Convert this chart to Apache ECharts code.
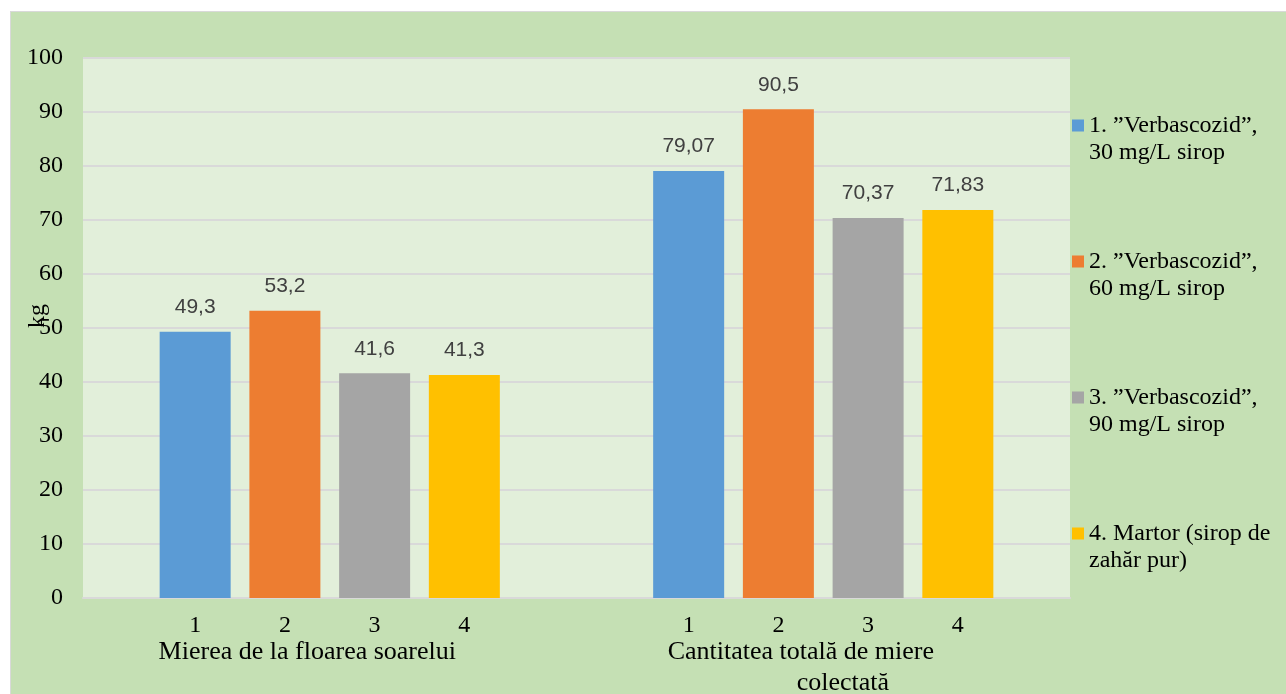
<!DOCTYPE html>
<html>
<head>
<meta charset="utf-8">
<script src="https://cdn.jsdelivr.net/npm/echarts@6/dist/echarts.min.js"></script>
<style>
  body { margin: 0; background: #fff; }
  .frame {
    position: absolute;
    left: 10px;
    top: 11px;
    width: 1280px;
    height: 690px;
    background: #c5e0b4;
    border: 1.5px solid #d9d9d9;
  }
  #chart {
    position: absolute;
    left: 0;
    top: 0;
    width: 1286px;
    height: 694px;
  }
</style>
</head>
<body>
<div class="frame"></div>
<div id="chart"></div>
<script>
// grupe pe axa x
var groups = ['Mierea de la floarea soarelui', 'Cantitatea totală de miere\ncolectată'];
// variante (legenda)
var variants = [
  '1. ”Verbascozid”,\n30 mg/L sirop',
  '2. ”Verbascozid”,\n60 mg/L sirop',
  '3. ”Verbascozid”,\n90 mg/L sirop',
  '4. Martor (sirop de\nzahăr pur)'
];
var subLabels = ['1', '2', '3', '4'];
var sunflower = [49.3, 53.2, 41.6, 41.3];
var totalHoney = [79.07, 90.5, 70.37, 71.83];
var yTicks = [0, 100, 10]; // min, max, interval
var colors = ['#5b9bd5', '#ed7d31', '#a5a5a5', '#ffc000'];

// axa x: 45 de pozitii, barele stau pe unele din ele
var slotCount = 45;
function slotOf(g, i) { return 5 + 4 * i + 22 * g; }
var groupSlots = [10, 32];

var subAxis = [];
var groupAxis = [];
for (var k = 0; k < slotCount; k++) { subAxis.push(''); groupAxis.push(''); }
var values = [sunflower, totalHoney];
var series = [];
for (var i = 0; i < variants.length; i++) {
  var d = [];
  for (var k = 0; k < slotCount; k++) d.push(null);
  for (var g = 0; g < groups.length; g++) {
    d[slotOf(g, i)] = values[g][i];
    subAxis[slotOf(g, i)] = subLabels[i];
  }
  series.push({
    name: variants[i],
    type: 'bar',
    barWidth: 71,
    barGap: '-100%',
    itemStyle: { color: colors[i] },
    label: {
      show: true,
      position: 'top',
      distance: 14,
      color: '#404040',
      fontFamily: 'Liberation Sans',
      fontSize: 21,
      formatter: function (p) { return String(p.value).replace('.', ','); }
    },
    data: d
  });
}
for (var g = 0; g < groups.length; g++) groupAxis[groupSlots[g]] = groups[g];

var serif = 'Liberation Serif';
var myChart = echarts.init(document.getElementById('chart'));
myChart.setOption({
  animation: false,
  textStyle: { fontFamily: serif },
  grid: {
    left: 83,
    top: 58,
    right: 216,
    bottom: 96,
    outerBoundsMode: 'none',
    show: true,
    backgroundColor: '#e2efda',
    borderWidth: 0
  },
  legend: {
    orient: 'vertical',
    left: 1072,
    top: 85,
    padding: 0,
    itemGap: 55,
    itemWidth: 12,
    itemHeight: 12,
    icon: 'rect',
    selectedMode: false,
    // linie goala sus ca patratelul sa stea pe primul rand
    formatter: function (name) { return '\n' + name; },
    textStyle: {
      fontFamily: serif,
      fontSize: 24,
      color: '#000',
      lineHeight: 27
    },
    data: variants
  },
  xAxis: [{
    type: 'category',
    boundaryGap: false,
    data: subAxis,
    axisLine: { lineStyle: { color: '#d9d9d9', width: 2 } },
    axisTick: { show: false },
    axisLabel: { interval: 0, color: '#000', fontFamily: serif, fontSize: 24, margin: 16 }
  }, {
    type: 'category',
    boundaryGap: false,
    position: 'bottom',
    data: groupAxis,
    axisLine: { show: false },
    axisTick: { show: false },
    axisLabel: {
      interval: 0,
      color: '#000',
      fontFamily: serif,
      fontSize: 26,
      lineHeight: 31,
      margin: 39,
      formatter: function (v) {
        if (v.indexOf('\n') < 0) return v;
        var parts = v.split('\n');
        return '{a|' + parts[0] + '}\n{b|' + parts[1] + '}';
      },
      rich: {
        a: { fontFamily: serif, fontSize: 26, lineHeight: 31, color: '#000' },
        b: { fontFamily: serif, fontSize: 26, lineHeight: 31, color: '#000', padding: [0, 0, 0, 84] }
      }
    }
  }],
  yAxis: {
    type: 'value',
    min: yTicks[0],
    max: yTicks[1],
    interval: yTicks[2],
    name: 'kg',
    nameLocation: 'middle',
    nameRotate: 90,
    nameGap: 33,
    nameMoveOverlap: false,
    nameTextStyle: { fontFamily: serif, fontSize: 24, color: '#000', padding: [0, 0, 0, 24] },
    axisLine: { show: false },
    axisTick: { show: false },
    axisLabel: { color: '#000', fontFamily: serif, fontSize: 24, margin: 20 },
    splitLine: { lineStyle: { color: '#d9d9d9', width: 2 } }
  },
  series: series
});
</script>
</body>
</html>
